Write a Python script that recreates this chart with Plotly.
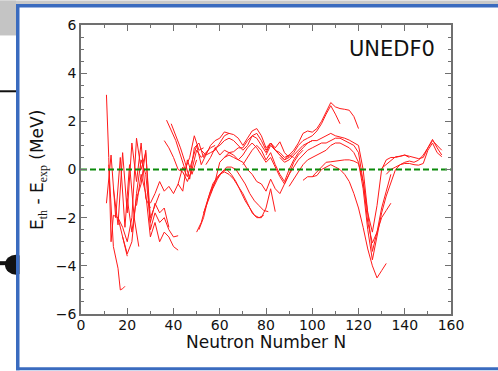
import plotly.graph_objects as go

# ---------------- data ----------------
n01 = [11, 12, 13, 14, 16, 18, 20]
e01 = [3.1, 0.5, -3.0, -1.9, -2.0, -2.8, -3.6]
n02 = [12, 13, 14, 16, 17, 18, 19]
e02 = [0.2, -1.5, -3.2, -4.1, -5.0, -4.95, -4.85]
n03 = [11, 13, 15, 17, 19, 21, 23, 25]
e03 = [-1.4, 0.6, -2.0, 0.5, -2.4, 0.2, -2.0, -3.2]
n04 = [14, 16, 18, 20, 22, 24, 26, 28, 30]
e04 = [-0.8, -2.3, 0.7, -1.8, 1.1, -0.5, 1.1, -1.2, -1.6]
n05 = [16, 18, 20, 22, 24, 26, 28, 30, 32, 34]
e05 = [-2.0, -2.4, -3.0, -2.0, 1.3, 0.0, 0.7, -2.0, -1.5, -1.0]
n06 = [18, 20, 22, 24, 26, 28, 30, 32, 34, 36, 38]
e06 = [-2.8, -3.5, -3.0, -1.0, 0.4, -0.2, -2.2, -1.4, -1.8, -1.6, -2.4]
n07 = [20, 22, 24, 26, 28, 30, 32, 34, 36, 38, 40, 42]
e07 = [-1.2, -2.6, -1.2, -0.6, 0.8, -2.5, -1.8, -2.2, -2.0, -2.5, -2.8, -2.75]
n08 = [24, 26, 28, 30, 32, 34, 36, 38, 40, 42]
e08 = [-1.5, -0.2, -1.0, -2.8, -2.2, -3.0, -2.6, -2.8, -3.2, -3.35]
n09 = [30, 32, 34, 36, 38, 40, 42, 44, 46, 48, 50]
e09 = [-1.4, -1.0, -0.5, -0.9, -0.7, -1.0, -0.6, -0.9, 0.4, -0.2, 0.4]
n10 = [37, 39, 41, 43, 45, 47, 49, 51, 53]
e10 = [2.05, 1.6, 1.2, 0.6, 0.0, 0.5, 1.4, 0.8, 0.9]
n11 = [39, 41, 43, 45, 47, 49, 51, 53, 55]
e11 = [1.9, 1.4, 0.9, 0.3, -0.4, 0.9, 1.1, 0.5, 0.8]
n12 = [36, 38, 40, 42, 44, 46, 48, 50, 52, 54, 56, 58]
e12 = [1.2, 0.9, 0.5, 0.0, -0.1, -0.5, 0.0, 0.8, 0.5, 0.7, 0.9, 1.0]
n13 = [42, 44, 46, 48, 50, 52, 54, 56, 58, 60, 62, 64]
e13 = [-0.6, 0.1, -0.3, 0.4, 1.0, 0.2, 0.6, 0.7, 0.8, 1.1, 1.4, 1.5]
n14 = [50, 52, 54, 56, 58, 60, 62, 64, 66, 68, 70, 72, 74, 76, 78, 80, 82, 84]
e14 = [-2.6, -2.2, -1.5, -0.9, -0.5, -0.2, -0.1, -0.2, -0.4, -0.7, -1.0, -1.4, -1.8, -2.0, -2.0, -1.6, -0.8, -1.75]
n15 = [51, 53, 55, 57, 59, 61, 63, 65, 67, 69, 71, 73, 75, 77, 79]
e15 = [-2.5, -2.0, -1.2, -0.6, -0.3, -0.1, 0.0, -0.2, -0.5, -0.9, -1.3, -1.6, -1.9, -2.0, -1.9]
n16 = [53, 55, 57, 59, 61, 63, 65, 67, 69, 71, 73, 75, 77, 79, 81]
e16 = [-1.8, -1.3, -0.8, -0.4, -0.1, 0.1, 0.1, 0.0, -0.3, -0.6, -1.0, -1.3, -1.5, -1.7, -1.75]
n17 = [56, 58, 60, 62, 64, 66, 68, 70, 72, 74, 76, 78, 80, 82, 84, 86, 88]
e17 = [-1.0, -0.5, 0.3, 0.5, 0.7, 0.6, 0.4, 0.3, 0.0, -0.2, -0.5, -0.6, -0.9, -0.4, -0.8, -1.0, -0.6]
n18 = [52, 54, 56, 58, 60, 62, 64, 66, 68, 70, 72, 74, 76, 78, 80, 82, 84, 86, 88, 90]
e18 = [0.8, 0.6, 1.0, 1.2, 1.3, 1.56, 1.5, 1.45, 1.3, 1.0, 1.3, 1.6, 1.7, 1.4, 0.9, 1.1, 0.9, 1.15, 0.7, 0.5]
n19 = [54, 56, 58, 60, 62, 64, 66, 68, 70, 72, 74, 76, 78, 80, 82, 84, 86, 88, 90, 92]
e19 = [0.2, 0.5, 0.9, 0.6, 0.8, 0.7, 0.74, 0.9, 0.9, 1.2, 1.4, 1.3, 1.0, 0.7, 1.1, 0.8, 0.6, 0.4, 0.6, 0.5]
n20 = [58, 60, 62, 64, 66, 68, 70, 72, 74, 76, 78, 80, 82, 84, 86, 88, 90, 92, 94, 96,
       98, 100, 102, 104, 106, 108, 110, 112, 114, 116, 118, 120]
e20 = [0.9, 1.0, 1.2, 1.3, 1.2, 1.0, 0.8, 1.0, 1.4, 1.5, 1.2, 0.8, 1.1, 0.8, 0.7, 0.5, 0.6, 0.8, 1.1, 1.5,
       1.6, 1.55, 1.7, 2.0, 2.4, 2.78, 2.6, 2.53, 2.5, 2.46, 2.2, 1.7]
n21 = [80, 82, 84, 86, 88, 90, 92, 94, 96, 98, 100, 102, 104, 106, 108, 110, 112]
e21 = [0.6, 1.0, 0.8, 0.6, 0.4, 0.5, 0.7, 1.0, 1.2, 1.3, 1.4, 1.6, 1.9, 2.3, 2.65, 2.3, 1.9]
n22 = [86, 88, 90, 92, 94, 96, 98, 100, 102, 104, 106, 108, 110, 112, 114, 116, 118, 120,
       122, 124, 126, 128, 130, 132, 134, 136, 138, 140, 142]
e22 = [0.5, 0.3, 0.4, 0.6, 0.8, 1.0, 1.1, 1.2, 1.2, 1.3, 1.4, 1.5, 1.4, 1.36, 1.3, 1.22, 1.1, 1.0,
       0.0, -1.8, -2.6, -1.5, 0.0, 0.4, 0.5, 0.5, 0.55, 0.6, 0.5]
n23 = [88, 90, 92, 94, 96, 98, 100, 102, 104, 106, 108, 110, 112, 114, 116, 118, 120,
       122, 124, 126, 128, 130, 132, 134]
e23 = [-0.6, -0.2, 0.1, 0.4, 0.6, 0.8, 0.9, 1.0, 1.1, 1.1, 1.2, 1.3, 1.3, 1.2, 1.1, 1.0, 0.7,
       -0.5, -2.2, -3.05, -2.6, -2.0, -1.7, -1.4]
n24 = [90, 92, 94, 96, 98, 100, 102, 104, 106, 108, 110, 112, 114, 116, 118, 120, 122, 124,
       126, 128, 130, 132, 134, 136, 138, 140, 142, 144, 146, 148, 150, 152, 154, 156]
e24 = [-0.7, -0.4, -0.1, 0.2, 0.4, 0.5, 0.6, 0.7, 0.8, 1.0, 1.1, 1.1, 1.0, 0.9, 0.7, 0.3, -0.8, -2.5,
       -3.75, -2.8, -1.8, -1.1, -0.5, 0.0, 0.2, 0.3, 0.35, 0.3, 0.39, 0.6, 0.9, 1.25, 0.9, 0.6]
n25 = [96, 98, 100, 102, 104, 106, 108, 110, 112, 114, 116, 118, 120, 122, 124, 126, 128, 130, 132]
e25 = [-0.45, -0.3, -0.3, -0.25, 0.0, 0.1, 0.2, 0.1, 0.0, -0.2, -0.5, -1.0, -1.6, -2.4, -3.3, -4.0, -4.5, -4.2, -3.9]
n26 = [100, 102, 104, 106, 108, 110, 112, 114, 116, 118, 120, 122, 124, 126, 128, 130, 132, 134]
e26 = [-0.3, -0.1, 0.1, 0.3, 0.32, 0.35, 0.4, 0.4, 0.4, 0.35, 0.25, -0.5, -1.8, -3.4, -2.6, -1.6, -0.9, -0.2]
n27 = [130, 132, 134, 136, 138, 140, 142, 144, 146, 148, 150, 152, 154, 156]
e27 = [0.05, 0.2, 0.35, 0.53, 0.55, 0.6, 0.55, 0.5, 0.45, 0.5, 0.9, 1.2, 1.0, 0.8]
n28 = [132, 134, 136, 138, 140, 142, 144, 146, 148, 150, 152, 154, 156]
e28 = [-0.2, 0.0, 0.1, 0.2, 0.25, 0.25, 0.2, 0.18, 0.25, 0.8, 1.1, 0.7, 0.53]
n29 = [62, 64, 66, 68, 70, 72, 74, 76, 78, 80, 82, 84, 86, 88, 90, 92, 94, 96]
e29 = [0.5, 0.6, 0.5, 0.4, 0.6, 0.9, 1.1, 0.9, 0.6, 0.3, 0.5, 0.1, -0.3, -0.6, -0.2, 0.3, 0.6, 0.8]
n30 = [70, 72, 74, 76, 78, 80, 82, 84, 86, 88, 90, 92, 94, 96, 98, 100]
e30 = [0.2, 0.5, 0.8, 1.0, 0.8, 0.4, 0.7, 0.2, -0.2, -0.5, 0.0, 0.4, 0.7, 0.9, 1.1, 1.2]

chains = [(n01, e01), (n02, e02), (n03, e03), (n04, e04), (n05, e05), (n06, e06),
          (n07, e07), (n08, e08), (n09, e09), (n10, e10), (n11, e11), (n12, e12),
          (n13, e13), (n14, e14), (n15, e15), (n16, e16), (n17, e17), (n18, e18),
          (n19, e19), (n20, e20), (n21, e21), (n22, e22), (n23, e23), (n24, e24),
          (n25, e25), (n26, e26), (n27, e27), (n28, e28), (n29, e29), (n30, e30)]

ref_x = [0, 160]
ref_y = [0, 0]

x_ticks = [0, 20, 40, 60, 80, 100, 120, 140, 160]
y_ticks = [-6, -4, -2, 0, 2, 4, 6]
label = "UNEDF0"
x_title = "Neutron Number N"

# ---------------- figure ----------------
W, H = 498, 371
L, R, T, B = 81, 47, 24.5, 56.5
PW, PH = W - L - R, H - T - B


def px(x):
    return (x - L) / PW


def py(y):
    return (H - B - y) / PH


fig = go.Figure()
for n, e in chains:
    fig.add_trace(go.Scatter(x=n, y=e, mode="lines",
                             line=dict(color="#ff1a1a", width=1),
                             hoverinfo="skip", showlegend=False))

fig.add_trace(go.Scatter(x=ref_x, y=ref_y, mode="lines",
                         line=dict(color="#0a8a0a", width=2, dash="6px,3px"),
                         showlegend=False))

axis_common = dict(showgrid=False, zeroline=False, showline=True,
                   linecolor="#707070", linewidth=1.5, mirror="ticks",
                   ticks="inside", ticklen=6, tickwidth=1, tickcolor="#707070",
                   tickfont=dict(family="DejaVu Sans", size=14, color="#111"))

fig.update_xaxes(range=[0, 160], tickvals=x_ticks, ticklabelstandoff=-3, **axis_common,
                 minor=dict(dtick=10, ticks="inside", ticklen=3, tickcolor="#707070"))
fig.update_yaxes(range=[-6, 6], tickvals=y_ticks, **axis_common,
                 minor=dict(dtick=0.5, ticks="inside", ticklen=3, tickcolor="#707070"))

shapes = []
# background pieces outside the frame
shapes.append(dict(type="rect", xref="paper", yref="paper", x0=px(0), x1=px(W), y0=py(0), y1=py(4),
                   fillcolor="#c9c9c9", line=dict(width=0), layer="below"))
shapes.append(dict(type="rect", xref="paper", yref="paper", x0=px(0), x1=px(16), y0=py(0), y1=py(35),
                   fillcolor="#c4c4c4", line=dict(width=0), layer="below"))
shapes.append(dict(type="rect", xref="paper", yref="paper", x0=px(0), x1=px(16), y0=py(90), y1=py(92),
                   fillcolor="#111111", line=dict(width=0), layer="below"))
shapes.append(dict(type="rect", xref="paper", yref="paper", x0=px(0), x1=px(8), y0=py(261.5), y1=py(265.5),
                   fillcolor="#111111", line=dict(width=0), layer="below"))
shapes.append(dict(type="circle", xref="paper", yref="paper", x0=px(5), x1=px(27), y0=py(255), y1=py(275),
                   fillcolor="#111111", line=dict(width=0), layer="below"))
shapes.append(dict(type="rect", xref="paper", yref="paper", x0=px(19.5), x1=px(40), y0=py(250), y1=py(280),
                   fillcolor="white", line=dict(width=0), layer="below"))
# blue frame
blue = "#3a6bbf"
shapes.append(dict(type="rect", xref="paper", yref="paper", x0=px(16), x1=px(W), y0=py(3.5), y1=py(7),
                   fillcolor=blue, line=dict(width=0), layer="below"))
shapes.append(dict(type="rect", xref="paper", yref="paper", x0=px(16), x1=px(19.5), y0=py(3.5), y1=py(H),
                   fillcolor=blue, line=dict(width=0), layer="below"))
shapes.append(dict(type="rect", xref="paper", yref="paper", x0=px(16), x1=px(W), y0=py(368), y1=py(H),
                   fillcolor=blue, line=dict(width=0), layer="below"))

annotations = [
    dict(text=label, xref="paper", yref="paper", x=px(437), y=py(49),
         xanchor="right", yanchor="middle", showarrow=False,
         font=dict(family="DejaVu Sans", size=21, color="#111")),
    dict(text=x_title, xref="paper", yref="paper", x=px(266), y=py(342.5),
         xanchor="center", yanchor="middle", showarrow=False,
         font=dict(family="DejaVu Sans", size=17, color="#111")),
    dict(text=("E<span style=\"font-family:'Liberation Serif'\"><sub>th</sub></span> - "
               "E<span style=\"font-family:'Liberation Serif'\"><sub>exp</sub></span> (MeV)"),
         xref="paper", yref="paper", x=px(39), y=py(170), textangle=-90,
         xanchor="center", yanchor="middle", showarrow=False,
         font=dict(family="DejaVu Sans", size=17, color="#111")),
]

fig.update_layout(width=W, height=H, margin=dict(l=L, r=R, t=T, b=B, pad=0),
                  paper_bgcolor="white", plot_bgcolor="rgba(0,0,0,0)",
                  shapes=shapes, annotations=annotations, showlegend=False)

fig.write_html("out.html")
